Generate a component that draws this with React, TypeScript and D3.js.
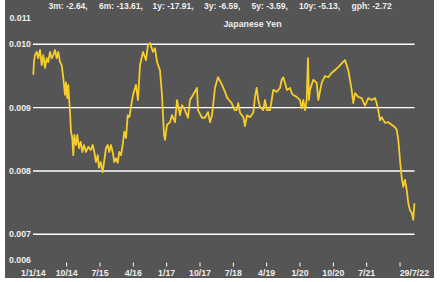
import React from "react";
import * as d3 from "d3";

// decimal-year dates (offset from 2014) and values
const years: number[] = [
  0.000, 0.015, 0.038, 0.076, 0.112, 0.151, 0.189, 0.225, 0.263, 0.301, 0.337, 0.376, 0.414, 0.450, 0.488, 0.526, 0.562, 0.601, 0.639, 0.675,
  0.713, 0.736, 0.765, 0.787, 0.810, 0.826, 0.848, 0.877, 0.900, 0.922, 0.961, 0.990, 1.028, 1.066, 1.102, 1.141, 1.185, 1.237, 1.291, 1.336,
  1.372, 1.410, 1.449, 1.478, 1.516, 1.561, 1.590, 1.635, 1.674, 1.710, 1.748, 1.786, 1.822, 1.860, 1.899, 1.935, 1.973, 2.011, 2.047, 2.085,
  2.124, 2.160, 2.243, 2.310, 2.355, 2.400, 2.468, 2.535, 2.580, 2.625, 2.693, 2.738, 2.783, 2.850, 2.895, 2.918, 2.940, 2.963, 3.008, 3.075,
  3.120, 3.188, 3.233, 3.300, 3.345, 3.412, 3.480, 3.525, 3.592, 3.682, 3.705, 3.795, 3.862, 3.930, 3.975, 4.020, 4.087, 4.155, 4.245, 4.312,
  4.351, 4.402, 4.463, 4.530, 4.575, 4.611, 4.650, 4.724, 4.762, 4.807, 4.875, 4.949, 4.987, 5.025, 5.061, 5.100, 5.174, 5.212, 5.257, 5.325,
  5.363, 5.399, 5.475, 5.550, 5.588, 5.624, 5.662, 5.707, 5.774, 5.813, 5.849, 5.925, 5.999, 6.038, 6.074, 6.112, 6.150, 6.179, 6.202, 6.224,
  6.299, 6.375, 6.411, 6.488, 6.562, 6.636, 6.713, 6.787, 6.861, 6.937, 7.012, 7.086, 7.162, 7.198, 7.237, 7.311, 7.387, 7.462, 7.536, 7.612,
  7.687, 7.725, 7.761, 7.799, 7.837, 7.912, 7.986, 8.062, 8.136, 8.175, 8.211, 8.249, 8.287, 8.323, 8.361, 8.400, 8.436, 8.474, 8.512, 8.548,
  8.573,
];

const values: number[] = [
  0.00952, 0.00972, 0.00983, 0.00988, 0.00978, 0.00991, 0.00967, 0.00983, 0.00963, 0.00978, 0.00972, 0.00988, 0.00978, 0.00983, 0.00991, 0.00978, 0.00988, 0.00972, 0.00967, 0.00947,
  0.00920, 0.00940, 0.00915, 0.00936, 0.00909, 0.00893, 0.00862, 0.00852, 0.00825, 0.00857, 0.00841, 0.00857, 0.00836, 0.00846, 0.00830, 0.00841, 0.00830, 0.00838, 0.00833, 0.00841,
  0.00830, 0.00814, 0.00825, 0.00805, 0.00814, 0.00798, 0.00813, 0.00836, 0.00841, 0.00830, 0.00841, 0.00830, 0.00814, 0.00820, 0.00813, 0.00830, 0.00825, 0.00841, 0.00862, 0.00852,
  0.00888, 0.00885, 0.00920, 0.00936, 0.00912, 0.00967, 0.00988, 0.00975, 0.00999, 0.01002, 0.00988, 0.00994, 0.00972, 0.00959, 0.00920, 0.00888, 0.00857, 0.00849, 0.00873, 0.00877,
  0.00888, 0.00877, 0.00912, 0.00888, 0.00904, 0.00896, 0.00884, 0.00912, 0.00920, 0.00931, 0.00896, 0.00884, 0.00884, 0.00893, 0.00877, 0.00888, 0.00931, 0.00948, 0.00936, 0.00925,
  0.00917, 0.00912, 0.00907, 0.00896, 0.00896, 0.00907, 0.00892, 0.00885, 0.00871, 0.00888, 0.00885, 0.00892, 0.00917, 0.00931, 0.00912, 0.00901, 0.00896, 0.00912, 0.00896, 0.00896,
  0.00912, 0.00928, 0.00925, 0.00931, 0.00944, 0.00948, 0.00939, 0.00928, 0.00931, 0.00923, 0.00920, 0.00917, 0.00912, 0.00899, 0.00912, 0.00896, 0.00912, 0.00978, 0.00912, 0.00928,
  0.00944, 0.00939, 0.00912, 0.00939, 0.00950, 0.00948, 0.00955, 0.00959, 0.00964, 0.00970, 0.00975, 0.00959, 0.00928, 0.00907, 0.00923, 0.00917, 0.00915, 0.00903, 0.00915, 0.00912,
  0.00915, 0.00907, 0.00896, 0.00880, 0.00885, 0.00876, 0.00877, 0.00873, 0.00869, 0.00865, 0.00849, 0.00817, 0.00790, 0.00775, 0.00786, 0.00770, 0.00749, 0.00738, 0.00734, 0.00723,
  0.00749,
];

const yGrid: number[] = [0.007, 0.008, 0.009, 0.010];
const yLabels: string[] = ["0.011", "0.010", "0.009", "0.008", "0.007", "0.006"];
const xTickYears: number[] = [0.75, 1.5, 2.25, 3.0, 3.75, 4.5, 5.25, 6.0, 6.75, 7.5, 8.25];
const xLabelYears: number[] = [0, 0.75, 1.5, 2.25, 3.0, 3.75, 4.5, 5.25, 6.0, 6.75, 7.5, 8.573];
const xLabels: string[] = ["1/1/14", "10/14", "7/15", "4/16", "1/17", "10/17", "7/18", "4/19", "1/20", "10/20", "7/21", "29/7/22"];
const statLabels: string[] = ["3m: -2.64,", "6m: -13.61,", "1y: -17.91,", "3y: -6.59,", "5y: -3.59,", "10y: -5.13,", "gph: -2.72"];
const statX: number[] = [48.5, 99, 152.5, 204, 251.5, 299, 351.5];
const title = "Japanese Yen";

export default function App() {
  const W = 445, H = 282;
  const x = d3.scaleLinear().domain([0, 8.573]).range([33.3, 414.4]);
  const y = d3.scaleLinear().domain([0.007, 0.010]).range([234.3, 44.3]);
  const labelY = (i: number) => {
    const v = [0.011, 0.010, 0.009, 0.008, 0.007, 0.006][i];
    if (v === 0.011) return 17.5;
    if (v === 0.006) return 260;
    return y(v);
  };
  const data = years.map((t, i) => [t, values[i]] as [number, number]);
  const line = d3.line<[number, number]>().x(d => x(d[0])).y(d => y(d[1]));
  const font = "'Liberation Sans', Arial, sans-serif";
  const txt = "#eeeeee";
  return (
    <svg width={W} height={H} style={{ position: "absolute", left: 0, top: 0 }} fontFamily={font}>
      <rect x={0} y={0} width={W} height={H} fill="#ffffff" />
      <rect x={5} y={0} width={429} height={278} fill="#555555" />
      {yGrid.map(v => (
        <line key={v} x1={33} x2={414.5} y1={y(v)} y2={y(v)} stroke="#ffffff" strokeWidth={1.4} />
      ))}
      {yLabels.map((l, i) => (
        <text key={l} x={31} y={labelY(i)} dy="0.35em" textAnchor="end" fontSize={8.8} fontWeight="bold" fill={txt}>{l}</text>
      ))}
      {xTickYears.map(t => (
        <line key={t} x1={x(t)} x2={x(t)} y1={262.5} y2={266.5} stroke="#ffffff" strokeWidth={1} />
      ))}
      {xLabels.map((l, i) => (
        <text key={l} x={x(xLabelYears[i])} y={276} textAnchor="middle" fontSize={8.8} fontWeight="bold" fill={txt}>{l}</text>
      ))}
      {statLabels.map((l, i) => (
        <text key={l} x={statX[i]} y={9} fontSize={8.5} fontWeight="bold" fill={txt}>{l}</text>
      ))}
      <text x={252.5} y={26.5} textAnchor="middle" fontSize={8.8} fontWeight="bold" fill={txt}>{title}</text>
      <path d={line(data) || ""} fill="none" stroke="#f6cd2a" strokeWidth={1.8} strokeLinejoin="round" />
    </svg>
  );
}
